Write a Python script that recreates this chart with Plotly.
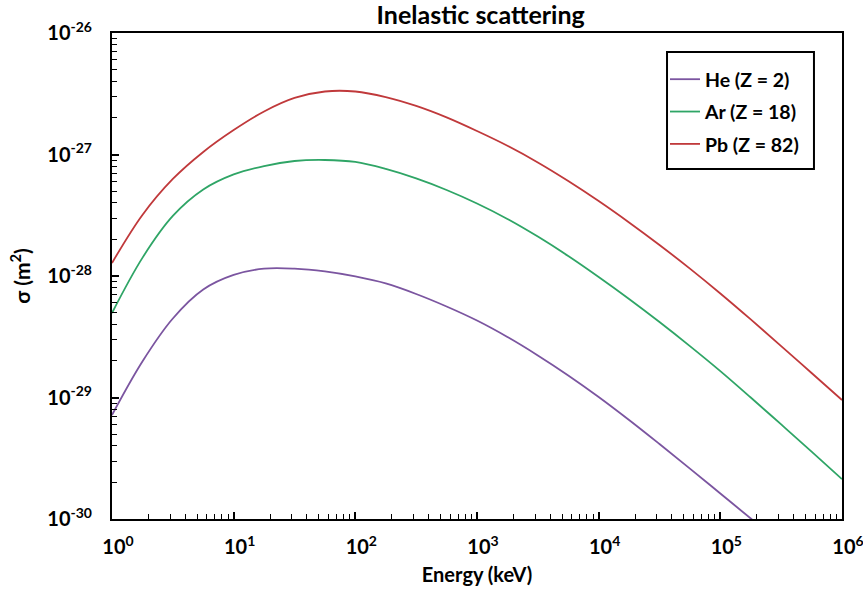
import plotly.graph_objects as go

# ---- data ----
energy_kev = [1, 1.778, 3.162, 5.623, 10, 17.78, 31.62, 56.23, 100, 177.8, 316.2,
              562.3, 1000, 1778, 3162, 5623, 10000, 17783, 31623, 56234,
              100000, 177828, 316228, 562341, 1000000]

sigma_he = [7.18e-30, 1.98e-29, 4.47e-29, 7.74e-29, 1.02e-28, 1.15e-28, 1.15e-28,
            1.09e-28, 9.91e-29, 8.68e-29, 7.11e-29, 5.61e-29, 4.30e-29, 3.15e-29,
            2.22e-29, 1.52e-29, 1.01e-29, 6.53e-30, 4.14e-30, 2.60e-30,
            1.62e-30, 1.01e-30, 6.29e-31, 3.91e-31, 2.44e-31]
sigma_ar = [4.96e-29, 1.41e-28, 3.12e-28, 5.15e-28, 6.85e-28, 8.04e-28, 8.84e-28,
            9.01e-28, 8.68e-28, 7.60e-28, 6.35e-28, 5.10e-28, 3.95e-28, 2.95e-28,
            2.11e-28, 1.46e-28, 9.81e-29, 6.47e-29, 4.18e-29, 2.65e-29,
            1.65e-29, 1.00e-29, 6.00e-30, 3.59e-30, 2.13e-30]
sigma_pb = [1.28e-28, 3.18e-28, 6.29e-28, 1.05e-27, 1.59e-27, 2.26e-27, 2.92e-27,
            3.30e-27, 3.30e-27, 2.97e-27, 2.51e-27, 2.02e-27, 1.56e-27, 1.18e-27,
            8.60e-28, 6.05e-28, 4.14e-28, 2.76e-28, 1.80e-28, 1.15e-28,
            7.18e-29, 4.39e-29, 2.65e-29, 1.59e-29, 9.54e-30]

series_names = ["He (Z = 2)", "Ar (Z = 18)", "Pb (Z = 82)"]
series_colors = ["#7B55A0", "#2FA566", "#C0393B"]

x_tickvals = [1, 10, 100, 1000, 10000, 100000, 1000000]
x_ticktext = ["10<sup>0</sup>", "10<sup>1</sup>", "10<sup>2</sup>", "10<sup>3</sup>",
              "10<sup>4</sup>", "10<sup>5</sup>", "10<sup>6</sup>"]
y_tickvals = [1e-30, 1e-29, 1e-28, 1e-27, 1e-26]
y_ticktext = ["10<sup>-30</sup>", "10<sup>-29</sup>", "10<sup>-28</sup>",
              "10<sup>-27</sup>", "10<sup>-26</sup>"]

x_minor = [m * 10 ** e for e in range(0, 6) for m in range(2, 10)]
y_minor = [m * 10.0 ** e for e in range(-30, -26) for m in range(2, 10)]

FONT = "Lato"

fig = go.Figure()
for name, ys, col in zip(series_names, [sigma_he, sigma_ar, sigma_pb], series_colors):
    fig.add_trace(go.Scatter(
        x=energy_kev, y=ys, mode="lines", name=name, legendgroup=name,
        line=dict(color=col, width=1.8, shape="spline", smoothing=1.0),
    ))

axis_common = dict(
    showgrid=False, zeroline=False, showline=True, linecolor="black",
    linewidth=2, mirror=True, ticks="inside", ticklen=7, tickwidth=1.5,
    tickcolor="black", ticklabeloverflow="allow", automargin=False,
    tickfont=dict(family=FONT, size=20, color="black", weight="bold"),
)

fig.update_xaxes(
    type="log", range=[0, 6], tickmode="array", tickvals=x_tickvals,
    ticktext=x_ticktext, ticklabelstandoff=9, ticklabelshift=6,
    minor=dict(tickmode="array", tickvals=x_minor, ticks="inside", ticklen=5,
               tickwidth=1.2, tickcolor="black"),
    title=dict(text="Energy (keV)", standoff=11,
               font=dict(family=FONT, size=20, color="black", weight="bold")),
    **axis_common,
)
fig.update_yaxes(
    type="log", range=[-30, -26], tickmode="array", tickvals=y_tickvals,
    ticktext=y_ticktext, ticklabelstandoff=14,
    minor=dict(tickmode="array", tickvals=y_minor, ticks="inside", ticklen=5,
               tickwidth=1.2, tickcolor="black"),
    title=dict(text="σ (m<sup>2</sup>)", standoff=11,
               font=dict(family=FONT, size=21, color="black", weight="bold")),
    **axis_common,
)

# legend frame (the reference's box is roomier than plotly's own border)
fig.add_shape(type="rect", xref="paper", yref="paper",
              x0=0.7603, x1=0.9616, y0=0.7202, y1=0.9609,
              line=dict(color="black", width=2), fillcolor="rgba(0,0,0,0)",
              layer="above")

fig.update_layout(
    width=863, height=590,
    margin=dict(l=112, r=21, t=33, b=71, autoexpand=False),
    paper_bgcolor="white", plot_bgcolor="white",
    font=dict(family=FONT, color="black"),
    title=dict(text="Inelastic scattering", x=0.557, xanchor="center",
               y=0.9746, yanchor="middle", automargin=False,
               font=dict(family=FONT, size=25, color="black", weight="bold")),
    legend=dict(
        x=0.7575, xanchor="left", y=0.9444, yanchor="top",
        borderwidth=0, bgcolor="rgba(255,255,255,0)",
        font=dict(family=FONT, size=19.5, color="black", weight="bold"),
        tracegroupgap=4, itemwidth=30,
    ),
)

fig.write_html("out.html")
